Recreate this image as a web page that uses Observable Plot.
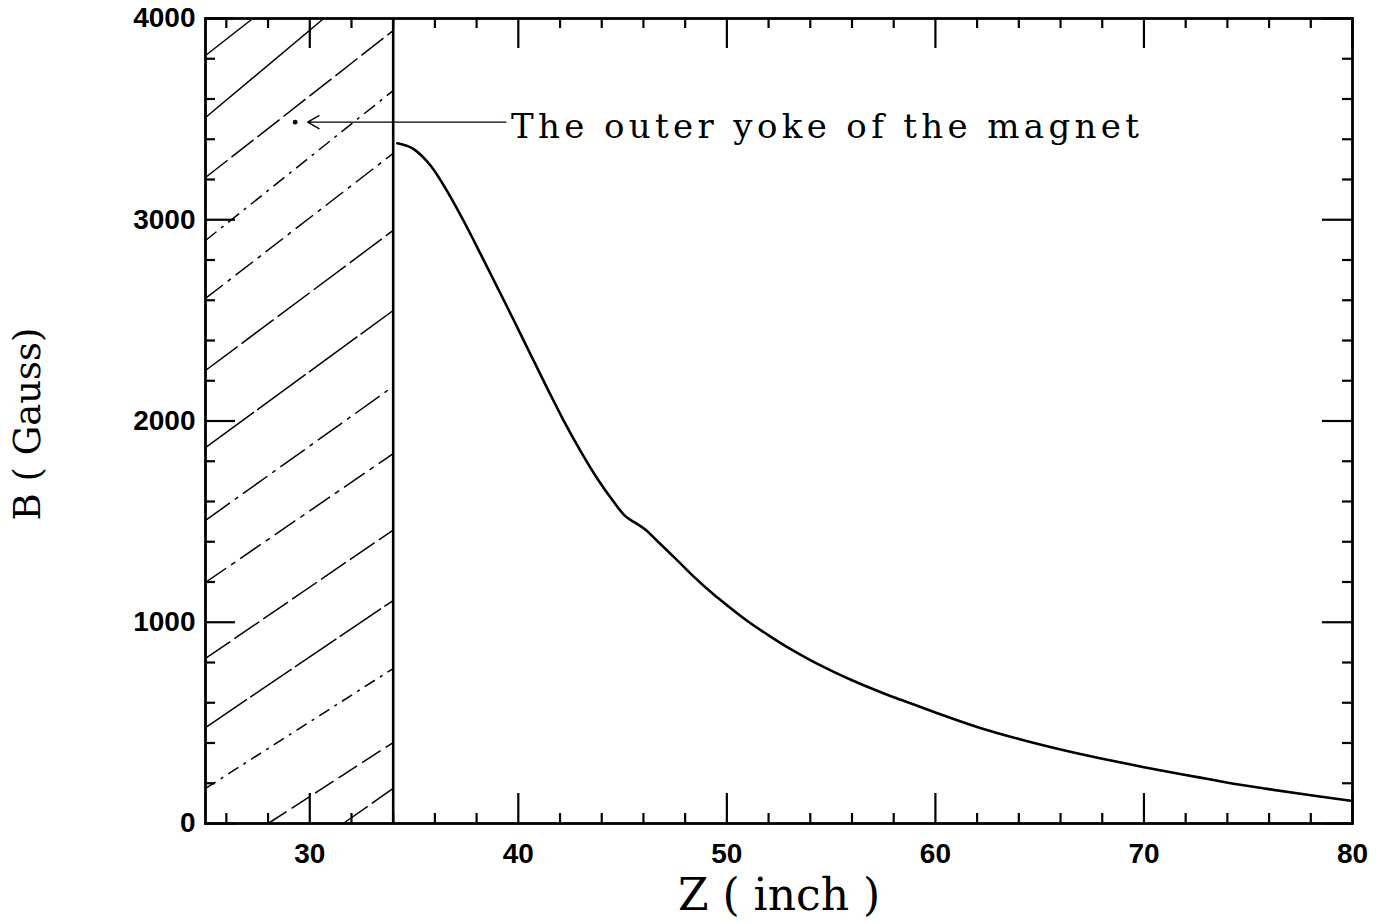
<!DOCTYPE html>
<html>
<head>
<meta charset="utf-8">
<script src="https://cdn.jsdelivr.net/npm/d3@7"></script>
<script src="https://cdn.jsdelivr.net/npm/@observablehq/plot@0.6"></script>
<style>
  html, body { margin: 0; padding: 0; background: #fff; }
  #chart svg { display: block; background: #fff; }
</style>
</head>
<body>
<div id="chart"></div>
<script>
// Field strength B along the axis, outside the outer yoke of the magnet
const zInch = [34.2, 35.0, 35.8, 36.6, 37.4, 38.2, 39.0, 39.8, 40.6, 41.4, 42.2, 43.0, 43.8, 44.6,
  45.1, 45.6, 46.1, 46.7, 47.6, 48.4, 49.4, 50, 51, 52, 53, 54, 55, 56, 57, 58, 59, 60,
  62, 64, 66, 68, 70, 72.7, 73.9, 75.9, 78.0, 80];
const bGauss = [3380, 3350, 3268, 3140, 2990, 2828, 2663, 2497, 2328, 2160, 1997, 1848, 1712, 1595,
  1530, 1495, 1460, 1400, 1310, 1228, 1135, 1085, 1005, 935, 870, 812, 760, 712, 668, 627, 590, 552,
  480, 420, 368, 322, 280, 228, 205, 172, 140, 112];

// Tick values and labels
const zTicks = [30, 40, 50, 60, 70, 80];
const bTicks = [0, 1000, 2000, 3000, 4000];
const zMinor = d3.range(26, 80, 2).filter(v => v % 10 !== 0);
const bMinor = d3.range(200, 4000, 200).filter(v => v % 1000 !== 0);

// Yoke region and its hatching (start / end of each hatch stroke, in data units)
const yokeEdge = 34;
const hatchZ1 = [25, 25, 25, 25, 25, 25, 25, 25, 25, 25, 25, 25, 28, 31.6];
const hatchB1 = [3816, 3508, 3210, 2897, 2609, 2251, 1868, 1506, 1198, 820, 477, 174, 0, 0];
const hatchZ2 = [27.27, 30.67, 34, 34, 34, 34, 34, 34, 34, 34, 34, 34, 34, 34];
const hatchB2 = [4000, 4000, 3940, 3642, 3330, 2947, 2549, 2172, 1838, 1458, 1108, 770, 402, 174];
const hatchDash = ["none", "none", "28,5", "14,6,3,6", "22,6,4,6", "40,5", "60,4", "30,6,4,6",
  "25,6,5,6", "30,5", "50,4", "12,6,3,6", "22,6", "30,5"];

// Annotation
const noteText = "The outer yoke of the magnet";
const noteArrow = {z1: 39.4, b1: 3485, z2: 29.9, b2: 3485};
const noteDot = {z: 29.3, b: 3485};
const noteAt = {z: 39.65, b: 3485};

const curve = zInch.map((z, i) => ({z, b: bGauss[i]}));
const hatch = hatchZ1.map((z, i) => ({z1: z, b1: hatchB1[i], z2: hatchZ2[i], b2: hatchB2[i], dash: hatchDash[i]}));

const W = 1385, H = 923;
const mL = 205, mR = 33, mT = 18, mB = 100;
const innerW = W - mL - mR, innerH = H - mT - mB;
const major = 30, minor = 10;
const sans = "'Liberation Sans', Arial, sans-serif";
const serif = "'DejaVu Serif', serif";

// Inward-pointing ticks on all four sides of the frame
const tickMarks = (len) => (vals, side) => {
  if (side === "bottom") return Plot.ruleX(vals, {x: d => d, insetTop: innerH - len, strokeWidth: 2.2});
  if (side === "top") return Plot.ruleX(vals, {x: d => d, insetBottom: innerH - len, strokeWidth: 2.2});
  if (side === "left") return Plot.ruleY(vals, {y: d => d, insetRight: innerW - len, strokeWidth: 2.2});
  return Plot.ruleY(vals, {y: d => d, insetLeft: innerW - len, strokeWidth: 2.2});
};
const majorTicks = tickMarks(major);
const minorTicks = tickMarks(minor);

const hatchMarks = Array.from(d3.group(hatch, d => d.dash), ([dash, rows]) =>
  Plot.link(rows, {x1: "z1", y1: "b1", x2: "z2", y2: "b2", stroke: "#000", strokeWidth: 1.5,
    strokeDasharray: dash === "none" ? undefined : dash}));

const chart = Plot.plot({
  width: W, height: H,
  marginLeft: mL, marginRight: mR, marginTop: mT, marginBottom: mB,
  x: {domain: [25, 80]},
  y: {domain: [0, 4000]},
  style: {background: "#fff", color: "#000"},
  marks: [
    ...hatchMarks,
    Plot.ruleX([yokeEdge], {strokeWidth: 2.6}),
    Plot.line(curve, {x: "z", y: "b", curve: "monotone-x", strokeWidth: 2.6}),
    majorTicks(zTicks, "bottom"), minorTicks(zMinor, "bottom"),
    majorTicks(zTicks, "top"), minorTicks(zMinor, "top"),
    majorTicks(bTicks, "left"), minorTicks(bMinor, "left"),
    majorTicks(bTicks, "right"), minorTicks(bMinor, "right"),
    Plot.frame({strokeWidth: 2.8}),
    Plot.axisX(zTicks, {tickSize: 0, tickPadding: 20, tickFormat: d => String(d), fontSize: 28,
      fontWeight: "bold", fontFamily: sans, label: null}),
    Plot.axisY(bTicks, {tickSize: 0, tickPadding: 10, tickFormat: d => String(d), fontSize: 28,
      fontWeight: "bold", fontFamily: sans, label: null}),
    Plot.arrow([noteArrow], {x1: "z1", y1: "b1", x2: "z2", y2: "b2", headLength: 14, strokeWidth: 1.4}),
    Plot.dot([noteDot], {x: "z", y: "b", r: 2.4, fill: "#000", stroke: null}),
    Plot.text([noteText], {x: noteAt.z, y: noteAt.b, text: d => d, textAnchor: "start", dy: 5,
      fontSize: 34, fontFamily: serif}),
    Plot.text(["Z ( inch )"], {frameAnchor: "bottom", text: d => d, lineAnchor: "middle", dy: 72,
      fontSize: 44, fontFamily: serif}),
    Plot.text(["B ( Gauss)"], {frameAnchor: "left", text: d => d, textAnchor: "middle", lineAnchor: "middle",
      dx: -177, dy: 3, rotate: -90, fontSize: 37, fontFamily: serif})
  ]
});

// Stretch the annotation to its printed width
d3.select(chart).selectAll("text").filter(function () { return this.textContent === noteText; })
  .attr("textLength", 628).attr("lengthAdjust", "spacing");

document.getElementById("chart").append(chart);
</script>
</body>
</html>
